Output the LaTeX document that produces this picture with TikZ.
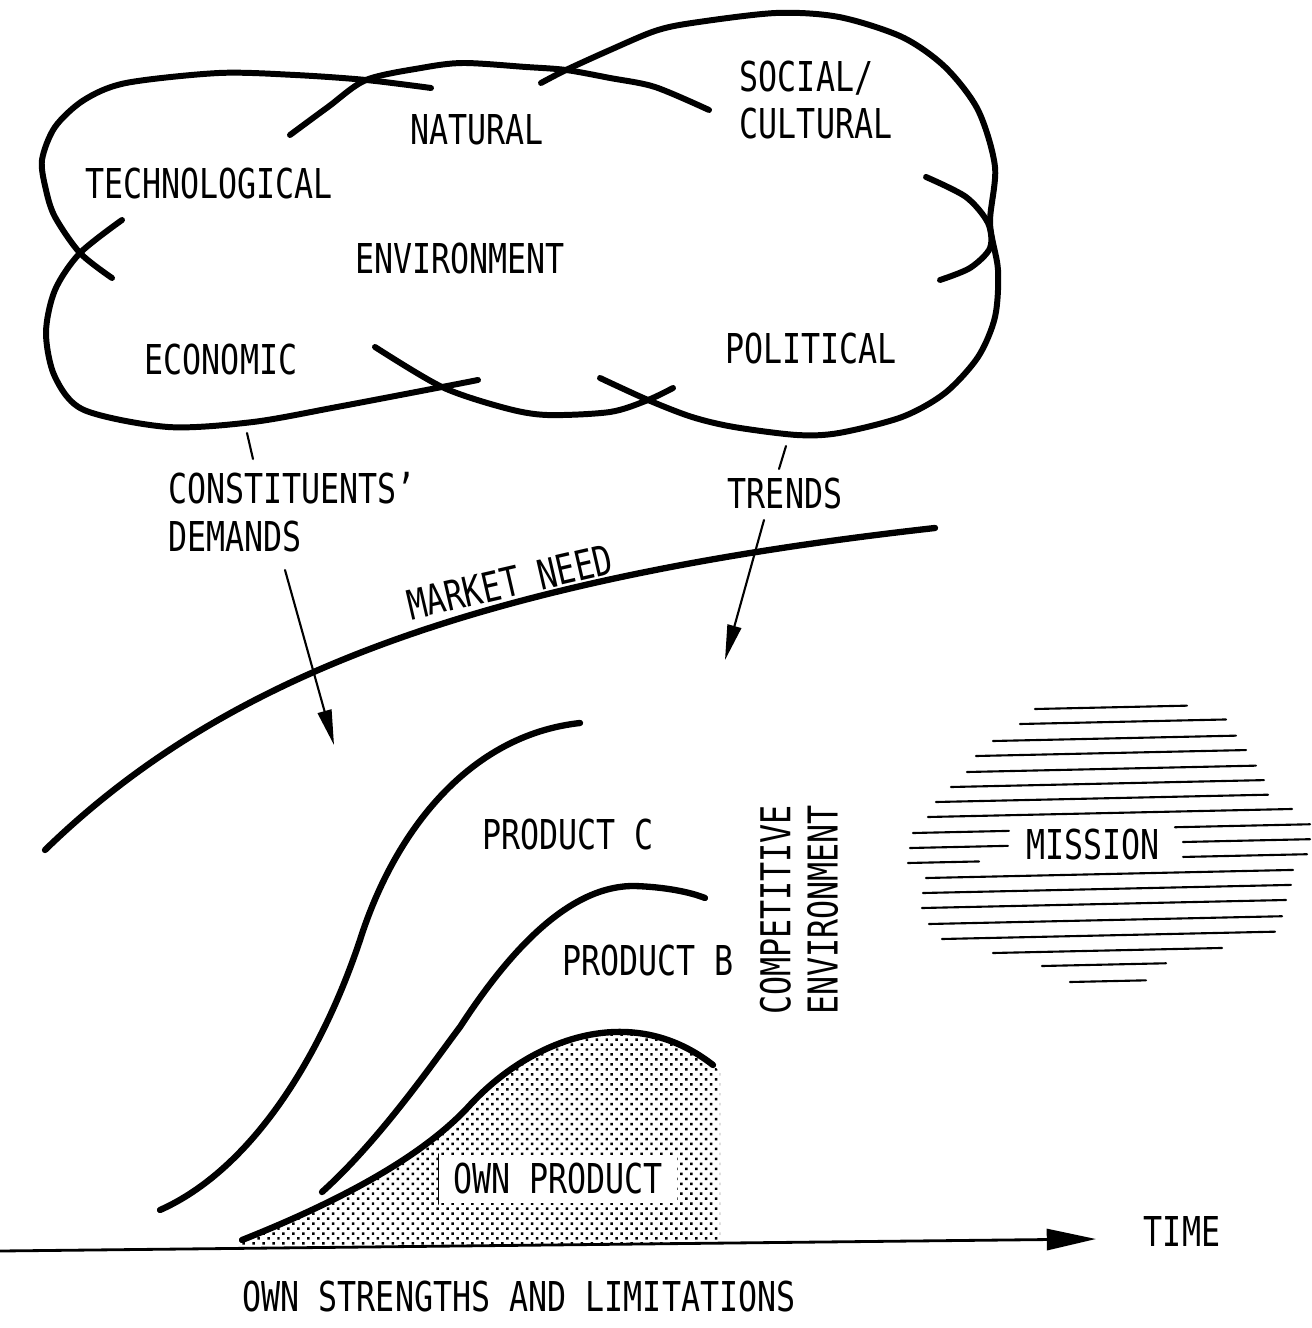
\documentclass[tikz,border=0pt]{standalone}
\usepackage{fontspec}
\newfontfamily\labfont{DejaVu Sans Mono}[FakeStretch=0.77]
\usetikzlibrary{arrows.meta,patterns.meta}

\begin{document}
\begin{tikzpicture}[x=0.01cm, y=-0.01cm, font=\labfont\fontsize{11.7}{13.5}\selectfont,
	line join=round, line cap=round, >={Triangle[length=10pt,width=4pt]},
	cloud/.style={line width=1.7pt},
	curve/.style={line width=1.8pt},
	thinline/.style={line width=0.6pt},
	hatch/.style={line width=0.6pt},
	lbl/.style={inner sep=0pt}]
	\useasboundingbox (0,0) rectangle (1311,1328);
	% environment cloud
	\draw[cloud] plot[smooth] coordinates {(431,88) (366,80) (295,75) (219,73) (126,83) (84,100) (55,127) (42,160) (46,190) (55,217) (80,253) (112,278)};
	\draw[cloud] plot[smooth] coordinates {(122,220) (80,253) (55,290) (46,333) (55,377) (84,410) (168,427) (253,422) (337,407) (442,387) (478,380)};
	\draw[cloud] plot[smooth] coordinates {(375,347) (442,387) (505,408) (547,415) (610,412) (648,400) (673,388)};
	\draw[cloud] plot[smooth] coordinates {(290,135) (328,107) (366,80) (421,68) (463,63) (526,67) (566,70) (610,78) (655,87) (709,110)};
	\draw[cloud] plot[smooth] coordinates {(541,83) (566,70) (610,50) (655,31) (692,23) (776,13) (839,17) (902,37) (945,67) (978,110) (995,167) (990,223) (998,270) (995,317) (978,357) (945,393) (902,417) (839,433) (797,435) (734,427) (692,417) (648,400) (600,378)};
	\draw[cloud] plot[smooth] coordinates {(926,177) (966,197) (988,223) (990,248) (970,268) (940,280)};
	\node[lbl] (tech) at (209,184) {TECHNOLOGICAL};
	\node[lbl] (natural) at (477,130) {NATURAL};
	\node[lbl,align=left] (social) at (816,100) {SOCIAL/\\CULTURAL};
	\node[lbl] (env) at (460,259) {ENVIRONMENT};
	\node[lbl] (econ) at (221,360) {ECONOMIC};
	\node[lbl] (pol) at (811,349) {POLITICAL};
	% demands and trends
	\node[lbl,align=left] (demands) at (292,512) {CONSTITUENTS’\\DEMANDS};
	\node[lbl] (trends) at (785,494) {TRENDS};
	\path (247,433) coordinate (d0) (253,459) coordinate (d1)
		(285,570) coordinate (d2) (334,745) coordinate (d3)
		(786,446) coordinate (t0) (779,469) coordinate (t1)
		(764,520) coordinate (t2) (725,660) coordinate (t3);
	\draw[thinline] (d0)--(d1) (t0)--(t1);
	\draw[thinline,->] (d2)--(d3);
	\draw[thinline,->] (t2)--(t3);
	% market need
	\draw[curve] (45,850) .. controls (220,680) and (470,580) .. (935,528);
	\node[lbl,rotate=13] (need) at (510,582) {MARKET NEED};
	% products
	\draw[curve] (160,1210) .. controls (250,1170) and (320,1060) .. (360,940)
		.. controls (395,830) and (470,735) .. (580,723);
	\draw[curve] (322,1192) .. controls (380,1140) and (435,1060) .. (460,1027)
		.. controls (510,950) and (570,885) .. (635,886)
		.. controls (665,887) and (690,892) .. (705,898);
	\fill[pattern={Dots[distance=2pt,radius=0.5pt,angle=45]}] (242,1240) .. controls (330,1205) and (420,1160) .. (470,1105)
		.. controls (530,1040) and (630,1000) .. (713,1065) -- (720,1072) -- (720,1243) -- (242,1248) -- cycle;
	\draw[curve] (242,1240) .. controls (330,1205) and (420,1160) .. (470,1105)
		.. controls (530,1040) and (630,1000) .. (713,1065);
	\node[lbl] (prodc) at (568,835) {PRODUCT C};
	\node[lbl] (prodb) at (648,961) {PRODUCT B};
	\node[fill=white,inner xsep=4pt,inner ysep=2.5pt] (own) at (558,1179) {OWN PRODUCT};
	\draw[line width=0.4pt] (own.north west)--(own.south west);
	\node[lbl,rotate=90,align=center] (compet) at (799,910) {COMPETITIVE\\ENVIRONMENT};
	% mission
	\node[lbl] (mission) at (1093,845) {MISSION};
	\foreach \y/\a/\b in {709/1035/1187, 724/1020/1226, 741/993/1236, 756/976/1246,
		772/967/1256, 787/951/1264, 802/936/1268, 817/928/1292, 878/926/1293,
		893/923/1291, 908/922/1286, 924/929/1282, 939/942/1275, 953/993/1222,
		966/1042/1166, 982/1070/1146}
		\draw[hatch] (\a,\y) -- (\b,{\y-0.022*(\b-\a)});
	\foreach \y/\a/\b/\c/\d in {833/913/1009/1175/1310, 848/910/1008/1183/1310, 863/908/979/1183/1307}{
		\draw[hatch] (\a,\y) -- (\b,{\y-0.022*(\b-\a)});
		\draw[hatch] (\c,{\y-0.022*(\c-\a)}) -- (\d,{\y-0.022*(\d-\a)});}
	% time axis
	\path (0,1251) coordinate (ax0) (1096,1239) coordinate (ax1);
	\draw[line width=0.8pt,-{Triangle[length=14pt,width=6pt]}] (ax0)--(ax1);
	\node[lbl] (time) at (1182,1231) {TIME};
	\node[lbl] (strength) at (519,1297) {OWN STRENGTHS AND LIMITATIONS};
\end{tikzpicture}
\end{document}
